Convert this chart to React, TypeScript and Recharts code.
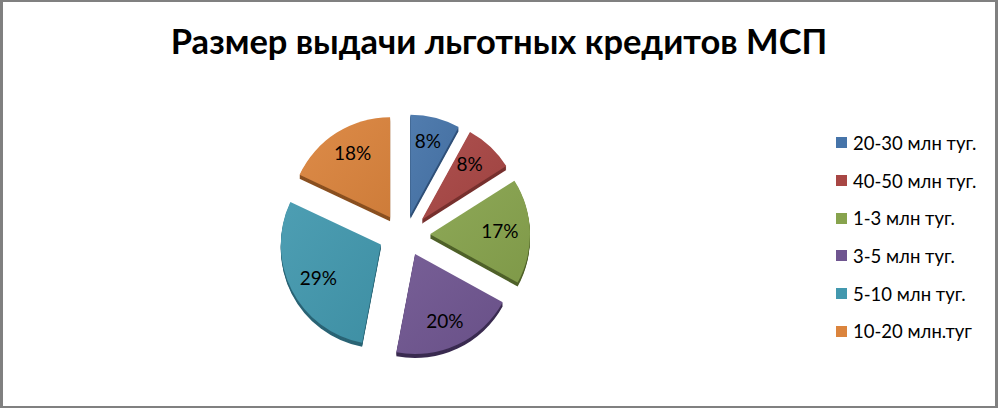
import React from "react";
import { PieChart, Pie, Legend, Sector } from "recharts";

const categories = ["20-30 млн туг.", "40-50 млн туг.", "1-3 млн туг.", "3-5 млн туг.", "5-10 млн туг.", "10-20 млн.туг"];
const shares = [8, 8, 17, 20, 29, 18];
const faceColors = ["#4674a9", "#a84644", "#87a34d", "#6f5590", "#4298ae", "#db843d"];
const sideColors = ["#2f5078", "#77302e", "#4f6129", "#3a2b50", "#2a6475", "#8a5020"];

const CX = 404;
const CY = 235;
const R = 100;
const EXPLODE_X = 26;
const EXPLODE_Y = 21;
const DEPTH = 4;
const RAD = Math.PI / 180;
const FONT = "Lato, 'Open Sans', sans-serif";

const rows = categories.map((name, i) => ({ name, value: shares[i], fill: faceColors[i], side: sideColors[i] }));

function SliceShape(props: any) {
  const { cx, cy, outerRadius, startAngle, endAngle, fill, payload, midAngle } = props;
  const dx = Math.cos(midAngle * RAD) * EXPLODE_X;
  const dy = -Math.sin(midAngle * RAD) * EXPLODE_Y;
  const side = payload?.side ?? props.side;
  const layers = [];
  for (let d = DEPTH; d >= 1; d--) {
    layers.push(
      <Sector key={d} cx={cx + dx} cy={cy + dy + d} innerRadius={0} outerRadius={outerRadius} startAngle={startAngle} endAngle={endAngle} fill={side} stroke="none" />
    );
  }
  return (
    <g>
      <defs>
        <linearGradient id="sheen" x1="0" y1="0" x2="1" y2="1">
          <stop offset="0%" stopColor="#ffffff" stopOpacity={0.06} />
          <stop offset="100%" stopColor="#000000" stopOpacity={0.06} />
        </linearGradient>
      </defs>
      {layers}
      <Sector cx={cx + dx} cy={cy + dy} innerRadius={0} outerRadius={outerRadius} startAngle={startAngle} endAngle={endAngle} fill={fill} stroke="none" />
      <Sector cx={cx + dx} cy={cy + dy} innerRadius={0} outerRadius={outerRadius} startAngle={startAngle} endAngle={endAngle} fill="url(#sheen)" stroke="none" />
    </g>
  );
}

function SliceLabel(props: any) {
  const { cx, cy, midAngle, value } = props;
  const x = cx + Math.cos(midAngle * RAD) * 96;
  const y = cy - 1.5 - Math.sin(midAngle * RAD) * 96;
  return (
    <text x={x} y={y} textAnchor="middle" dominantBaseline="central" fontFamily={FONT} fontSize={19} fill="#000">
      {value}%
    </text>
  );
}

function LegendList({ payload }: any) {
  return (
    <div>
      {(payload ?? []).map((entry: any) => (
        <div key={entry.value} style={{ display: "flex", alignItems: "center", height: 37.7, fontFamily: FONT, fontSize: 18.5, color: "#000", whiteSpace: "nowrap" }}>
          <span style={{ width: 11, height: 11, background: entry.color, marginRight: 6, display: "inline-block", flex: "none" }} />
          {entry.value}
        </div>
      ))}
    </div>
  );
}

export default function App() {
  return (
    <div style={{ position: "absolute", left: 0, top: 0, width: 998, height: 408, boxSizing: "border-box", background: "#fff", overflow: "hidden" }}>
      <PieChart width={998} height={408} margin={{ top: 0, right: 0, bottom: 0, left: 0 }}>
        <Pie
          data={rows}
          dataKey="value"
          nameKey="name"
          cx={CX}
          cy={CY}
          outerRadius={R}
          startAngle={90}
          endAngle={-270}
          isAnimationActive={false}
          shape={SliceShape}
          label={SliceLabel}
          labelLine={false}
          stroke="none"
        />
        <Legend content={LegendList} itemSorter={null} layout="vertical" wrapperStyle={{ position: "absolute", left: 836, top: 124, width: 160, bottom: "auto", right: "auto" }} />
      </PieChart>
      <div style={{ position: "absolute", left: 0, width: 998, top: 20, textAlign: "center", fontFamily: FONT, fontWeight: 700, fontSize: 34.5, color: "#000", whiteSpace: "nowrap" }}>
        Размер выдачи льготных кредитов МСП
      </div>
      <div style={{ position: "absolute", inset: 0, borderLeft: "3px solid #808080", borderRight: "3px solid #808080", borderBottom: "2px solid #808080", borderTop: "2px solid #808080", pointerEvents: "none" }} />
    </div>
  );
}
